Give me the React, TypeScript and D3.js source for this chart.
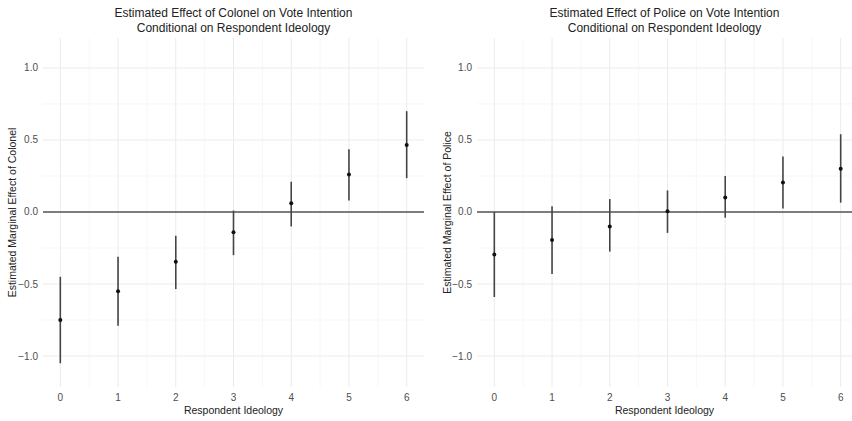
import React from 'react';
import * as d3 from 'd3';

// respondent ideology values (x)
const ideology = [0, 1, 2, 3, 4, 5, 6];

// Colonel panel: estimate and 95% bounds
const colonelEst = [-0.75, -0.55, -0.345, -0.14, 0.06, 0.26, 0.465];
const colonelLo = [-1.05, -0.79, -0.535, -0.30, -0.10, 0.08, 0.235];
const colonelHi = [-0.45, -0.31, -0.165, 0.01, 0.21, 0.435, 0.70];

// Police panel
const policeEst = [-0.295, -0.195, -0.10, 0.005, 0.10, 0.205, 0.30];
const policeLo = [-0.59, -0.43, -0.275, -0.145, -0.04, 0.025, 0.065];
const policeHi = [0.0, 0.04, 0.09, 0.15, 0.25, 0.385, 0.54];

const yTicks = [-1.0, -0.5, 0.0, 0.5, 1.0];
const yMinor = [-0.75, -0.25, 0.25, 0.75];
const xMinor = [0.5, 1.5, 2.5, 3.5, 4.5, 5.5];

const panels = [
  {
    title1: 'Estimated Effect of Colonel on Vote Intention',
    title2: 'Conditional on Respondent Ideology',
    yTitle: 'Estimated Marginal Effect of Colonel',
    est: colonelEst, lo: colonelLo, hi: colonelHi,
    left: 43, right: 424, yTitleX: 12,
  },
  {
    title1: 'Estimated Effect of Police on Vote Intention',
    title2: 'Conditional on Respondent Ideology',
    yTitle: 'Estimated Marginal Effect of Police',
    est: policeEst, lo: policeLo, hi: policeHi,
    left: 477, right: 858, yTitleX: 447,
  },
];

const top = 38;
const bottom = 387;
const font = '"Liberation Sans", Arial, sans-serif';

function Panel({ p }: { p: typeof panels[number] }) {
  const x = d3.scaleLinear().domain([-0.3, 6.3]).range([p.left, p.right]);
  const y = d3.scaleLinear().domain([-1.215, 1.208]).range([bottom, top]);
  const cx = (p.left + Math.min(p.right, 852)) / 2;
  const midY = (top + bottom) / 2;

  return (
    <g>
      {/* grid */}
      {yMinor.map(v => (
        <line key={'ym' + v} x1={p.left} x2={p.right} y1={y(v)} y2={y(v)} stroke="#f2f2f2" strokeWidth={0.6} />
      ))}
      {xMinor.map(v => (
        <line key={'xm' + v} x1={x(v)} x2={x(v)} y1={top} y2={bottom} stroke="#f2f2f2" strokeWidth={0.6} />
      ))}
      {yTicks.map(v => (
        <line key={'y' + v} x1={p.left} x2={p.right} y1={y(v)} y2={y(v)} stroke="#ebebeb" strokeWidth={1} />
      ))}
      {ideology.map(v => (
        <line key={'x' + v} x1={x(v)} x2={x(v)} y1={top} y2={bottom} stroke="#ebebeb" strokeWidth={1} />
      ))}

      {/* zero reference */}
      <line x1={p.left} x2={p.right} y1={y(0)} y2={y(0)} stroke="#555" strokeWidth={1.3} />

      {/* error bars + points */}
      {ideology.map((v, i) => (
        <g key={'e' + v}>
          <line x1={x(v)} x2={x(v)} y1={y(p.lo[i])} y2={y(p.hi[i])} stroke="#444" strokeWidth={1.6} />
          <circle cx={x(v)} cy={y(p.est[i])} r={2} fill="#111" />
        </g>
      ))}

      {/* y tick labels */}
      {yTicks.map(v => (
        <text key={'yl' + v} x={p.left - 5} y={y(v)} dy="0.35em" textAnchor="end" fontSize={10} fill="#4d4d4d">
          {d3.format('.1f')(v)}
        </text>
      ))}
      {/* x tick labels */}
      {ideology.map(v => (
        <text key={'xl' + v} x={x(v)} y={bottom + 14} textAnchor="middle" fontSize={10} fill="#4d4d4d">
          {v}
        </text>
      ))}

      {/* titles */}
      <text x={cx} y={17} textAnchor="middle" fontSize={12} fill="#222">{p.title1}</text>
      <text x={cx} y={32} textAnchor="middle" fontSize={12} fill="#222">{p.title2}</text>
      <text x={cx} y={414} textAnchor="middle" fontSize={10.5} fill="#222">Respondent Ideology</text>
      <text
        transform={`translate(${p.yTitleX + 4},${midY}) rotate(-90)`}
        textAnchor="middle"
        fontSize={10.5}
        fill="#222"
      >
        {p.yTitle}
      </text>
    </g>
  );
}

export default function App() {
  return (
    <svg
      width={852}
      height={421}
      style={{ position: 'absolute', left: 0, top: 0, background: '#fff', fontFamily: font }}
    >
      <rect width={852} height={421} fill="#fff" />
      {panels.map((p, i) => (
        <Panel key={i} p={p} />
      ))}
    </svg>
  );
}
